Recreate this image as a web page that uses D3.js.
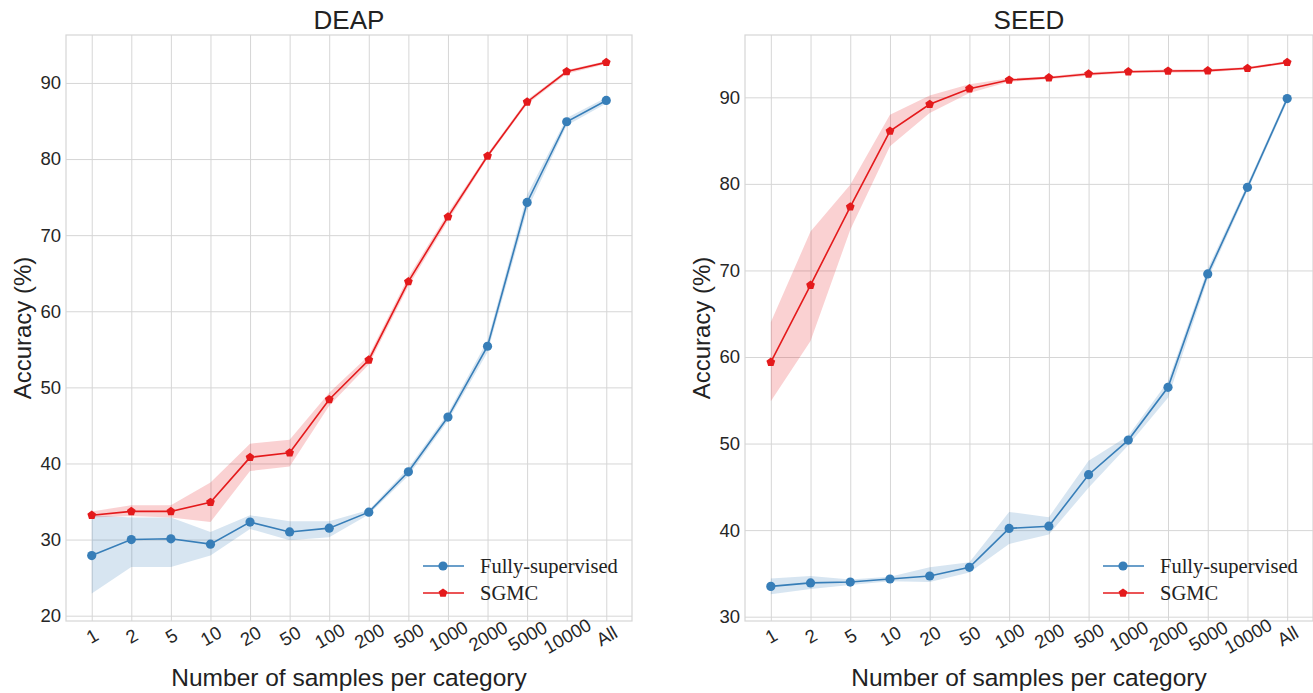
<!DOCTYPE html>
<html>
<head>
<meta charset="utf-8">
<script src="https://cdn.jsdelivr.net/npm/d3@7"></script>
<style>
  body { margin: 0; background: #fff; }
  svg { display: block; }
</style>
</head>
<body>
<div id="chart"></div>
<script>
// tick labels of the x axis
var categories = ["1", "2", "5", "10", "20", "50", "100", "200", "500", "1000", "2000", "5000", "10000", "All"];

// DEAP
var deapFullyMean = [27.9, 30.0, 30.1, 29.4, 32.3, 31.0, 31.5, 33.6, 38.9, 46.1, 55.4, 74.3, 84.9, 87.7];
var deapFullyLow  = [22.9, 26.4, 26.4, 27.9, 31.4, 29.9, 30.3, 33.3, 38.4, 45.6, 54.6, 73.3, 84.4, 87.3];
var deapFullyHigh = [33.2, 32.9, 32.9, 31.0, 33.2, 32.4, 32.4, 33.9, 39.4, 46.6, 56.2, 75.3, 85.4, 88.1];
var deapSgmcMean  = [33.2, 33.7, 33.7, 34.9, 40.8, 41.4, 48.4, 53.6, 63.9, 72.4, 80.4, 87.5, 91.5, 92.7];
var deapSgmcLow   = [32.9, 33.1, 32.9, 32.3, 39.0, 39.6, 47.6, 53.0, 63.3, 71.9, 80.1, 87.2, 91.2, 92.5];
var deapSgmcHigh  = [33.7, 34.5, 34.5, 37.5, 42.6, 43.1, 49.3, 54.2, 64.5, 72.9, 80.7, 87.8, 91.7, 92.9];

// SEED
var seedFullyMean = [33.5, 33.9, 34.0, 34.35, 34.7, 35.7, 40.2, 40.45, 46.4, 50.4, 56.5, 69.6, 79.6, 89.85];
var seedFullyLow  = [32.6, 33.2, 33.65, 34.1, 34.0, 35.1, 38.4, 39.5, 44.9, 49.8, 55.3, 69.0, 79.2, 89.5];
var seedFullyHigh = [34.4, 34.7, 34.3, 34.6, 35.7, 36.3, 42.1, 41.5, 48.0, 50.9, 57.2, 70.2, 80.0, 90.2];
var seedSgmcMean  = [59.4, 68.3, 77.35, 86.1, 89.2, 91.0, 92.0, 92.27, 92.7, 92.96, 93.04, 93.08, 93.35, 94.04];
var seedSgmcLow   = [54.9, 61.85, 74.7, 84.35, 88.2, 90.5, 91.8, 92.1, 92.5, 92.8, 92.85, 92.9, 93.2, 93.9];
var seedSgmcHigh  = [64.0, 74.5, 79.9, 88.0, 90.2, 91.5, 92.2, 92.4, 92.9, 93.1, 93.2, 93.25, 93.5, 94.2];

var yTicksDeap = [20, 30, 40, 50, 60, 70, 80, 90];
var yTicksSeed = [30, 40, 50, 60, 70, 80, 90];

var blue = "#377eb8", red = "#e41a1c";
var sans = "'Liberation Sans', Arial, sans-serif";

var svg = d3.select("#chart").append("svg").attr("width", 1313).attr("height", 693);

// pentagon marker path (matplotlib "p")
function pentagon(r) {
    var pts = d3.range(5).map(function(i) {
        var a = -Math.PI / 2 + i * 2 * Math.PI / 5;
        return [r * Math.cos(a), r * Math.sin(a)];
    });
    return "M" + pts.join("L") + "Z";
}

function panel(param) {
    var g = svg.append("g");
    var x = d3.scaleLinear().domain([-0.65, categories.length - 1 + 0.65]).range([param.left, param.right]);
    var y = d3.scaleLinear().domain(param.yDomain).range([param.bottom, param.top]);

    // grid lines
    g.append("g").attr("transform", "translate(0," + param.bottom + ")")
        .call(d3.axisBottom(x).tickValues(d3.range(categories.length)).tickSize(-(param.bottom - param.top)).tickFormat(""))
        .call(function(s) { s.select(".domain").remove(); s.selectAll("line").attr("stroke", "#d6d6d6").attr("stroke-width", 1); });
    g.append("g").attr("transform", "translate(" + param.left + ",0)")
        .call(d3.axisLeft(y).tickValues(param.yTicks).tickSize(-(param.right - param.left)).tickFormat(""))
        .call(function(s) { s.select(".domain").remove(); s.selectAll("line").attr("stroke", "#d6d6d6").attr("stroke-width", 1); });

    // frame
    g.append("rect").attr("x", param.left).attr("y", param.top)
        .attr("width", param.right - param.left).attr("height", param.bottom - param.top)
        .attr("fill", "none").attr("stroke", "#d6d6d6").attr("stroke-width", 1.2);

    // y tick labels
    g.append("g").attr("transform", "translate(" + param.left + ",0)")
        .call(d3.axisLeft(y).tickValues(param.yTicks).tickSize(0).tickPadding(5))
        .call(function(s) {
            s.select(".domain").remove();
            s.selectAll("text").attr("font-family", sans).attr("font-size", 18.5).attr("fill", "#262626");
        });

    // x tick labels, rotated
    g.append("g").attr("transform", "translate(0," + param.bottom + ")")
        .call(d3.axisBottom(x).tickValues(d3.range(categories.length)).tickSize(0)
            .tickFormat(function(i) { return categories[i]; }))
        .call(function(s) {
            s.select(".domain").remove();
            s.selectAll("text")
                .attr("font-family", sans).attr("font-size", 18.5).attr("fill", "#262626")
                .attr("y", 0).attr("dy", "0.35em")
                .attr("text-anchor", "middle")
                .attr("transform", "translate(0,15) rotate(-30)");
        });

    // bands, lines, markers
    param.series.forEach(function(sr) {
        var idx = d3.range(categories.length);
        g.append("path").datum(idx)
            .attr("d", d3.area().x(function(i) { return x(i); })
                .y0(function(i) { return y(sr.low[i]); })
                .y1(function(i) { return y(sr.high[i]); }))
            .attr("fill", sr.color).attr("fill-opacity", 0.2).attr("stroke", "none");
        g.append("path").datum(idx)
            .attr("d", d3.line().x(function(i) { return x(i); }).y(function(i) { return y(sr.mean[i]); }))
            .attr("fill", "none").attr("stroke", sr.color).attr("stroke-width", 1.6);
        if (sr.marker === "circle") {
            g.selectAll(null).data(idx).enter().append("circle")
                .attr("cx", function(i) { return x(i); }).attr("cy", function(i) { return y(sr.mean[i]); })
                .attr("r", 4.6).attr("fill", sr.color);
        } else {
            g.selectAll(null).data(idx).enter().append("path")
                .attr("transform", function(i) { return "translate(" + x(i) + "," + y(sr.mean[i]) + ")"; })
                .attr("d", pentagon(4.6)).attr("fill", sr.color);
        }
    });

    // title and axis labels
    var cx = (param.left + param.right) / 2;
    g.append("text").attr("x", cx).attr("y", 29).attr("text-anchor", "middle")
        .attr("font-family", sans).attr("font-size", 26).attr("fill", "#222").text(param.title);
    g.append("text").attr("x", cx).attr("y", 686).attr("text-anchor", "middle")
        .attr("font-family", sans).attr("font-size", 24.5).attr("fill", "#222").text("Number of samples per category");
    g.append("text").attr("transform", "translate(" + (param.left - 35) + "," + ((param.top + param.bottom) / 2) + ") rotate(-90)")
        .attr("text-anchor", "middle")
        .attr("font-family", sans).attr("font-size", 24).attr("fill", "#222").text("Accuracy (%)");

    // legend
    var lg = g.append("g").attr("transform", "translate(" + param.legendX + ",566)");
    param.series.forEach(function(sr, k) {
        var row = lg.append("g").attr("transform", "translate(0," + (k * 27) + ")");
        row.append("line").attr("x1", 0).attr("x2", 41).attr("y1", 0).attr("y2", 0)
            .attr("stroke", sr.color).attr("stroke-width", 1.6);
        if (sr.marker === "circle") row.append("circle").attr("cx", 20).attr("cy", 0).attr("r", 4.6).attr("fill", sr.color);
        else row.append("path").attr("transform", "translate(20,0)").attr("d", pentagon(4.6)).attr("fill", sr.color);
        row.append("text").attr("x", 57).attr("y", 0).attr("dy", "0.35em")
            .attr("font-family", "'Liberation Serif', 'Times New Roman', serif").attr("font-size", 20.5)
            .attr("fill", "#222").text(sr.name);
    });
}

panel({
    title: "DEAP", left: 66, right: 632, top: 35, bottom: 621,
    yDomain: [19.3, 96.3], yTicks: yTicksDeap, legendX: 423,
    series: [
        {name: "Fully-supervised", mean: deapFullyMean, low: deapFullyLow, high: deapFullyHigh, color: blue, marker: "circle"},
        {name: "SGMC", mean: deapSgmcMean, low: deapSgmcLow, high: deapSgmcHigh, color: red, marker: "pentagon"}
    ]
});

panel({
    title: "SEED", left: 745, right: 1313, top: 35, bottom: 621,
    yDomain: [29.5, 97.2], yTicks: yTicksSeed, legendX: 1103,
    series: [
        {name: "Fully-supervised", mean: seedFullyMean, low: seedFullyLow, high: seedFullyHigh, color: blue, marker: "circle"},
        {name: "SGMC", mean: seedSgmcMean, low: seedSgmcLow, high: seedSgmcHigh, color: red, marker: "pentagon"}
    ]
});
</script>
</body>
</html>
